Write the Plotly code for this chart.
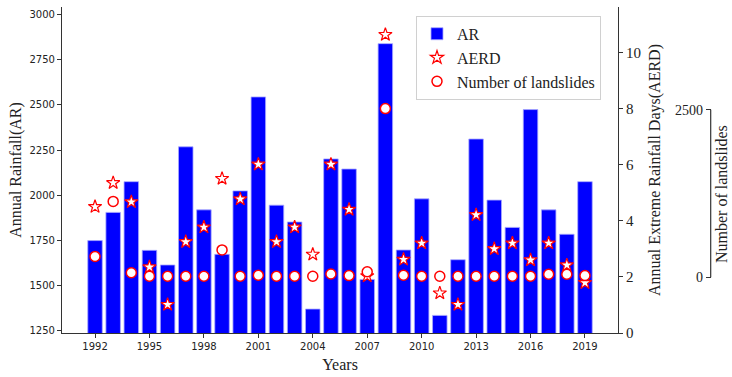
import plotly.graph_objects as go

years = list(range(1992, 2020))
annual_rainfall = [1749, 1905, 2075, 1695, 1614, 2268, 1919, 1673, 2024, 2544,
                   1945, 1852, 1370, 2201, 2145, 1534, 2839, 1697, 1980, 1335,
                   1643, 2311, 1973, 1822, 2474, 1919, 1784, 2075]
aerd = [4.50, 5.35, 4.67, 2.35, 1.01, 3.25, 3.77, 5.50, 4.77, 6.01,
        3.25, 3.77, 2.80, 6.01, 4.40, 2.03, 10.63, 2.62, 3.20, 1.42,
        1.01, 4.21, 3.00, 3.20, 2.60, 3.20, 2.42, 1.79]
landslides = [311, 1132, 67, 15, 15, 15, 15, 408, 15, 29,
              15, 15, 15, 48, 24, 82, 2518, 29, 15, 15,
              15, 15, 15, 15, 15, 44, 44, 24]
year_ticks = list(range(1992, 2020, 3))
ar_ticks = [1250, 1500, 1750, 2000, 2250, 2500, 2750, 3000]
aerd_ticks = [0, 2, 4, 6, 8, 10]
landslide_ticks = [0, 2500]

SERIF = "Liberation Serif"
SANS = "DejaVu Sans"
W, H = 732, 377
ML, MR, MT, MB = 62, 17, 7, 37
plot_w = W - ML - MR
x_right = (618 - ML) / plot_w

fig = go.Figure()
fig.add_trace(go.Bar(
    x=years, y=annual_rainfall, name="AR", width=0.8,
    marker=dict(color="#0000ff", line=dict(color="#a8a8ff", width=0.8)),
    yaxis="y", legendrank=1,
))
fig.add_trace(go.Scatter(
    x=years, y=landslides, name="Number of landslides", mode="markers",
    marker=dict(symbol="circle", size=10, color="white",
                line=dict(color="#ff0000", width=1.5)),
    yaxis="y3", legendrank=3,
))
fig.add_trace(go.Scatter(
    x=years, y=aerd, name="AERD", mode="markers",
    marker=dict(symbol="star", size=10, color="white",
                line=dict(color="#ff0000", width=1.2)),
    yaxis="y2", legendrank=2,
))

axis_common = dict(showgrid=False, zeroline=False, ticks="outside",
                   ticklen=4, tickcolor="#333", linecolor="#333", linewidth=1.2)

fig.update_layout(
    width=W, height=H,
    margin=dict(l=ML, r=MR, t=MT, b=MB),
    paper_bgcolor="white", plot_bgcolor="white",
    showlegend=True,
    legend=dict(x=(416 - ML) / plot_w, y=(340 - 16) / (H - MT - MB),
                xanchor="left", yanchor="top",
                bgcolor="white", bordercolor="#d0d0d0", borderwidth=1,
                font=dict(family=SERIF, size=16, color="#222"),
                traceorder="normal", itemwidth=30, tracegroupgap=0),
    xaxis=dict(domain=[0, x_right], range=[1990.18, 2020.82],
               tickvals=year_ticks, showline=True,
               tickfont=dict(family=SANS, size=10, color="#222"),
               title=dict(text="Years", standoff=7,
                          font=dict(family=SERIF, size=16, color="#222")),
               **axis_common),
    yaxis=dict(range=[1237.5, 3041.7], tickvals=ar_ticks, showline=True,
               tickfont=dict(family=SANS, size=10, color="#222"),
               title=dict(text="Annual Rainfall(AR)", standoff=3,
                          font=dict(family=SERIF, size=16, color="#222")),
               **axis_common),
    yaxis2=dict(overlaying="y", side="right", anchor="x",
                range=[0, 11.616], tickvals=aerd_ticks, showline=True,
                tickfont=dict(family=SERIF, size=15, color="#222"),
                title=dict(text="Annual Extreme Rainfall Days(AERD)", standoff=8,
                           font=dict(family=SERIF, size=16, color="#222")),
                **axis_common),
    yaxis3=dict(overlaying="y", side="left", anchor="free",
                position=(710.7 - ML) / plot_w,
                range=[-833, 4035], tickvals=landslide_ticks, showline=False,
                tickfont=dict(family=SERIF, size=14, color="#222"),
                showgrid=False, zeroline=False, ticks="outside", ticklen=5,
                tickcolor="#333"),
)

# spine of the landslide axis, spanning only the labelled range
spine_x = (710.7 - ML) / plot_w
fig.add_shape(type="line", xref="paper", yref="y3",
              x0=spine_x, x1=spine_x, y0=landslide_ticks[0], y1=landslide_ticks[-1],
              line=dict(color="#333", width=1.2))
fig.add_annotation(xref="paper", yref="y3", x=(731 - ML) / plot_w,
                   y=sum(landslide_ticks) / 2, text="Number of landslides",
                   textangle=-90, showarrow=False, xanchor="right", yanchor="middle",
                   borderpad=0, font=dict(family=SERIF, size=16, color="#222"))

fig.write_html("out.html")
